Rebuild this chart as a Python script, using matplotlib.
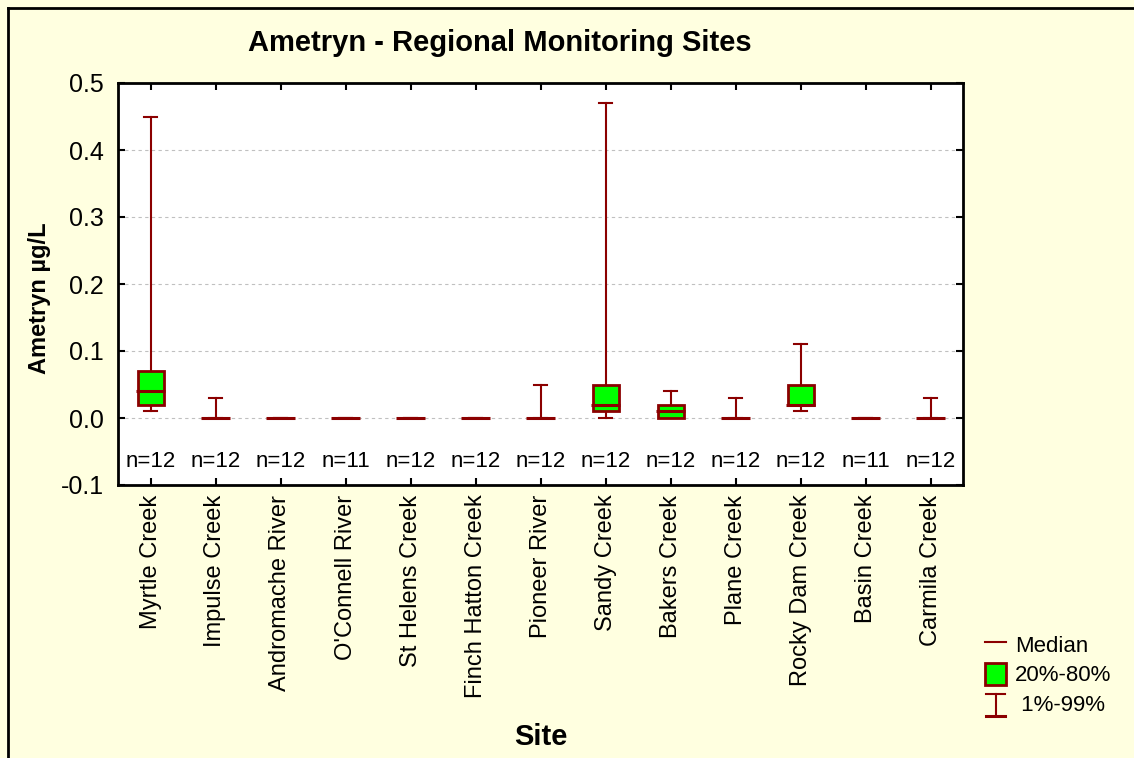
import matplotlib
matplotlib.use("Agg")
import matplotlib.pyplot as plt
from matplotlib.lines import Line2D
from matplotlib.patches import Patch, Rectangle
from matplotlib.legend_handler import HandlerBase

plt.rcParams["font.family"] = ["Liberation Sans", "DejaVu Sans"]

sites = [
    "Myrtle Creek", "Impulse Creek", "Andromache River", "O'Connell River",
    "St Helens Creek", "Finch Hatton Creek", "Pioneer River", "Sandy Creek",
    "Bakers Creek", "Plane Creek", "Rocky Dam Creek", "Basin Creek", "Carmila Creek",
]
p01 = [0.01, 0.0, 0.0, 0.0, 0.0, 0.0, 0.0, 0.0, 0.0, 0.0, 0.01, 0.0, 0.0]
p20 = [0.02, 0.0, 0.0, 0.0, 0.0, 0.0, 0.0, 0.01, 0.0, 0.0, 0.02, 0.0, 0.0]
median = [0.04, 0.0, 0.0, 0.0, 0.0, 0.0, 0.0, 0.02, 0.01, 0.0, 0.02, 0.0, 0.0]
p80 = [0.07, 0.0, 0.0, 0.0, 0.0, 0.0, 0.0, 0.05, 0.02, 0.0, 0.05, 0.0, 0.0]
p99 = [0.45, 0.03, 0.0, 0.0, 0.0, 0.0, 0.05, 0.47, 0.04, 0.03, 0.11, 0.0, 0.03]
counts = [12, 12, 12, 11, 12, 12, 12, 12, 12, 12, 12, 11, 12]

DARK_RED = "#8b0000"
GREEN = "#00ff00"
BG = "#ffffe0"


class WhiskerHandler(HandlerBase):
    def create_artists(self, legend, orig_handle, xdescent, ydescent,
                       width, height, fontsize, trans):
        cx = width / 2 - xdescent
        y0, y1 = -ydescent - 0.05 * height, -ydescent + 0.95 * height
        w = width * 0.45
        arts = [
            Line2D([cx, cx], [y0, y1], color=DARK_RED, lw=1.5),
            Line2D([cx - w, cx + w], [y0, y0], color=DARK_RED, lw=2.2),
            Line2D([cx - w, cx + w], [y1, y1], color=DARK_RED, lw=1.5),
        ]
        for a in arts:
            a.set_transform(trans)
        return arts


fig = plt.figure(figsize=(11.34, 7.58), dpi=100, facecolor=BG)
ax = fig.add_axes([118 / 1134, 1 - 485 / 758, 845 / 1134, 402 / 758])
ax.set_facecolor("white")

box_w = 0.4
cap_w = 0.2
for i in range(len(sites)):
    # whisker
    ax.plot([i, i], [p01[i], p99[i]], color=DARK_RED, lw=1.5, zorder=2)
    ax.plot([i - cap_w / 2, i + cap_w / 2], [p99[i], p99[i]], color=DARK_RED, lw=1.5, zorder=2)
    ax.plot([i - cap_w / 2, i + cap_w / 2], [p01[i], p01[i]], color=DARK_RED, lw=1.5, zorder=2)
    # box
    if p80[i] > p20[i]:
        ax.add_patch(Rectangle((i - box_w / 2, p20[i]), box_w, p80[i] - p20[i],
                               facecolor=GREEN, edgecolor=DARK_RED, lw=2, zorder=3))
    ax.plot([i - box_w / 2 - 0.02, i + box_w / 2 + 0.02], [median[i], median[i]],
            color=DARK_RED, lw=2.2, zorder=4, solid_capstyle="butt")
    ax.text(i, -0.065, f"n={counts[i]}", ha="center", va="center", fontsize=16)

ax.set_xlim(-0.5, len(sites) - 0.5)
ax.set_ylim(-0.1, 0.5)
ax.set_xticks(range(len(sites)))
ax.set_xticklabels(sites, rotation=90, fontsize=17)
ax.set_yticks([-0.1, 0.0, 0.1, 0.2, 0.3, 0.4, 0.5])
ax.set_yticklabels(["-0.1", "0.0", "0.1", "0.2", "0.3", "0.4", "0.5"], fontsize=18)
ax.tick_params(direction="in", top=True, right=True, length=5, width=1.5, pad=10)
ax.tick_params(axis="x", pad=7)
for s in ax.spines.values():
    s.set_linewidth(2)

for y in [0.0, 0.1, 0.2, 0.3, 0.4]:
    ax.axhline(y, color="#c0c0c0", lw=0.8, ls=(0, (3, 3)), zorder=1)

ax.set_xlabel("Site", fontsize=21, fontweight="bold", labelpad=18)
ax.set_ylabel("Ametryn µg/L", fontsize=17, fontweight="bold")
ax.yaxis.set_label_coords((51 - 118) / 845, (485 - 298) / 402)
fig.text(500 / 1134, 1 - 43 / 758, "Ametryn - Regional Monitoring Sites",
         ha="center", va="center", fontsize=21, fontweight="bold")

handles = [
    Line2D([], [], color=DARK_RED, lw=1.5),
    Patch(facecolor=GREEN, edgecolor=DARK_RED, lw=2),
    "whisker",
]
labels = ["Median", "20%-80%", " 1%-99%"]
leg = fig.legend(handles, labels, loc="upper left",
                 bbox_to_anchor=(985 / 1134, 1 - 633 / 758),
                 frameon=False, fontsize=16, handlelength=0.95, handleheight=1.15,
                 handletextpad=0.4, labelspacing=0.28, borderaxespad=0, borderpad=0,
                 handler_map={str: WhiskerHandler()})

# figure border (top and left visible)
fig.add_artist(Line2D([8 / 1134, 1.0], [1 - 8 / 758, 1 - 8 / 758],
                      transform=fig.transFigure, color="black", lw=2))
fig.add_artist(Line2D([8 / 1134, 8 / 1134], [0.0, 1 - 8 / 758],
                      transform=fig.transFigure, color="black", lw=2))

fig.savefig("out.png", dpi=100, facecolor=BG)
